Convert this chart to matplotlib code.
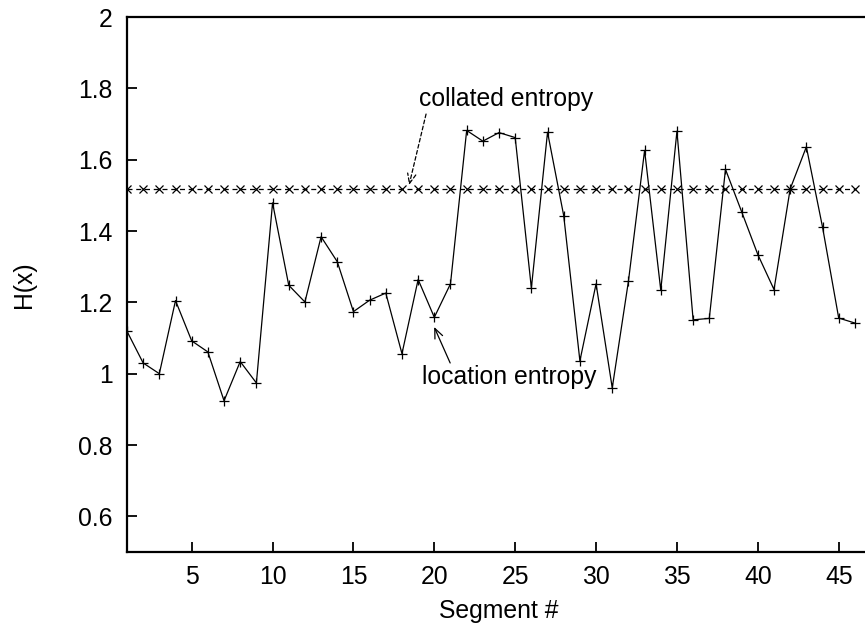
import numpy as np
import matplotlib
matplotlib.use("Agg")
import matplotlib.pyplot as plt

plt.rcParams['font.family'] = ['Liberation Sans', 'DejaVu Sans']

# entropy per segment
segments = np.arange(1, 47)
location_entropy = [
    1.119, 1.030, 1.000, 1.205, 1.092, 1.061, 0.924, 1.034, 0.974, 1.479,
    1.248, 1.201, 1.384, 1.314, 1.174, 1.206, 1.226, 1.056, 1.264, 1.158,
    1.252, 1.682, 1.652, 1.676, 1.662, 1.240, 1.677, 1.443, 1.036, 1.252,
    0.960, 1.259, 1.626, 1.234, 1.680, 1.151, 1.155, 1.573, 1.454, 1.334,
    1.236, 1.518, 1.636, 1.411, 1.156, 1.142,
]
collated_value = 1.518
collated_entropy = [collated_value] * len(segments)

x_ticks = [5, 10, 15, 20, 25, 30, 35, 40, 45]
y_ticks = [0.6, 0.8, 1.0, 1.2, 1.4, 1.6, 1.8, 2.0]
y_tick_labels = ['0.6', '0.8', '1', '1.2', '1.4', '1.6', '1.8', '2']

FS = 17.8

fig = plt.figure(figsize=(8.65, 6.31), dpi=100)
# right edge of the frame runs past the canvas
ax = fig.add_axes([0.1468, 0.1252, 1.007 - 0.1468, 0.973 - 0.1252])

ax.plot(segments, location_entropy, color='black', linewidth=0.9,
        marker='+', markersize=6.8, markeredgewidth=0.9)
ax.plot(segments, collated_entropy, color='black', linewidth=0.9,
        linestyle=(0, (4, 3)), marker='x', markersize=6, markeredgewidth=0.9)

ax.set_xlim(1, 47)
ax.set_ylim(0.5, 2.0)
ax.set_xticks(x_ticks)
ax.set_yticks(y_ticks)
ax.set_yticklabels(y_tick_labels)

for side in ['top', 'left', 'bottom']:
    ax.spines[side].set_linewidth(1.6)
ax.spines['right'].set_visible(False)
ax.tick_params(direction='in', length=7, width=1.3, labelsize=FS,
               top=False, right=False)
ax.tick_params(axis='y', pad=10.5)
ax.tick_params(axis='x', pad=9.5)

ax.set_xlabel('Segment #', fontsize=FS, labelpad=7)
ax.set_ylabel('H(x)', fontsize=FS, labelpad=30)

# labels and their pointers
ax.text(24.47, 1.770, 'collated entropy', fontsize=FS, ha='center', va='center')
ax.annotate('', xy=(18.44, 1.529), xytext=(19.49, 1.728),
            arrowprops=dict(arrowstyle='->,head_length=0.7,head_width=0.3',
                            color='black', linewidth=0.9, linestyle=(0, (3, 2)),
                            shrinkA=0, shrinkB=0))
ax.text(24.65, 0.991, 'location entropy', fontsize=FS, ha='center', va='center')
ax.annotate('', xy=(19.99, 1.131), xytext=(20.98, 1.030),
            arrowprops=dict(arrowstyle='->,head_length=0.7,head_width=0.3',
                            color='black', linewidth=0.9,
                            shrinkA=0, shrinkB=0))

fig.savefig('out.png', dpi=100)
